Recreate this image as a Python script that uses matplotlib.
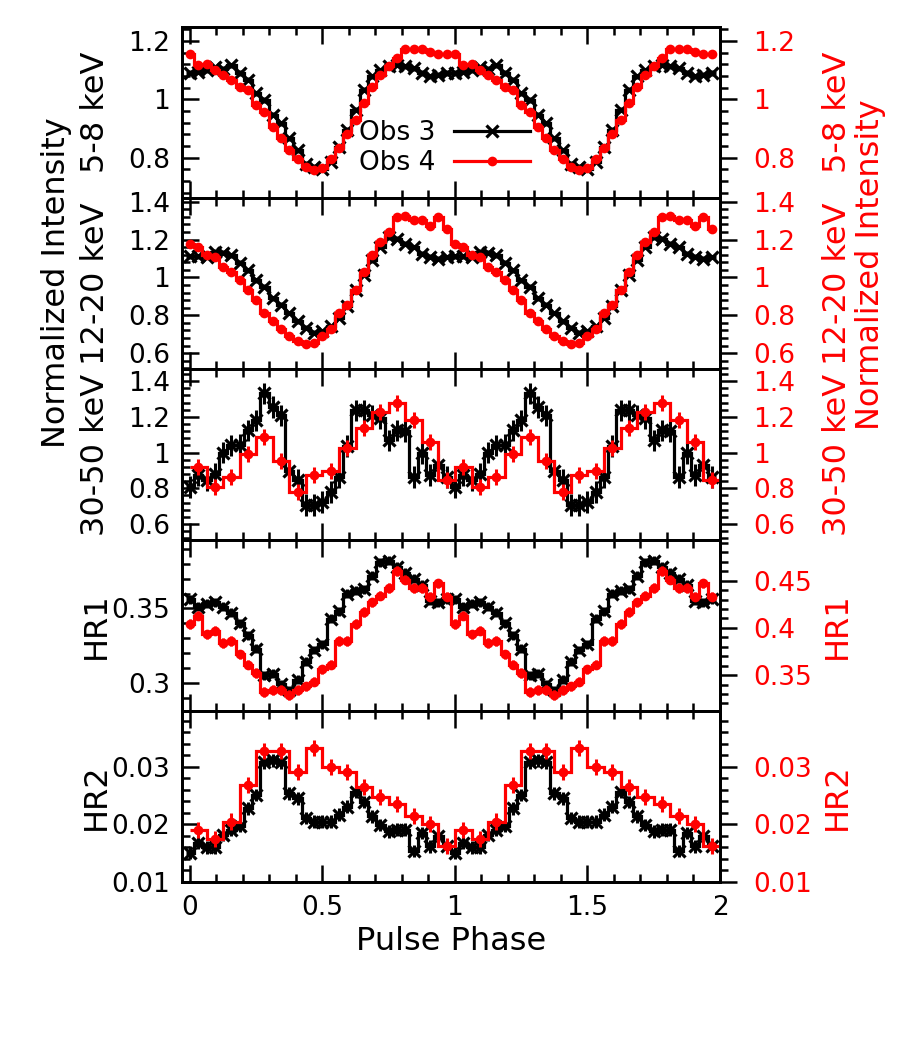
import numpy as np
import matplotlib
matplotlib.use("Agg")
import matplotlib.pyplot as plt
from matplotlib.ticker import MultipleLocator, AutoMinorLocator, FuncFormatter
from matplotlib.lines import Line2D

# pulse profiles, one cycle each (plotted twice)
# Obs 3: 32 bins centred on i/32
obs3_5_8 = [1.090, 1.095, 1.100, 1.110, 1.105, 1.117, 1.090, 1.067, 1.021, 0.998,
            0.947, 0.918, 0.866, 0.826, 0.780, 0.768, 0.763, 0.786, 0.837, 0.895,
            0.964, 1.033, 1.079, 1.100, 1.113, 1.119, 1.113, 1.107, 1.090, 1.079,
            1.084, 1.090]
obs4_5_8 = [1.156, 1.119, 1.121, 1.100, 1.084, 1.067, 1.044, 1.033, 0.981, 0.958,
            0.906, 0.866, 0.826, 0.797, 0.768, 0.757, 0.765, 0.797, 0.832, 0.883,
            0.929, 0.987, 1.044, 1.084, 1.113, 1.142, 1.171, 1.171, 1.174, 1.163,
            1.156, 1.156]

obs3_12_20 = [1.112, 1.112, 1.108, 1.135, 1.130, 1.117, 1.077, 1.039, 0.986, 0.951,
              0.890, 0.855, 0.812, 0.768, 0.733, 0.707, 0.716, 0.742, 0.786, 0.847,
              0.934, 1.013, 1.091, 1.161, 1.213, 1.204, 1.178, 1.161, 1.126, 1.109,
              1.100, 1.108]
obs4_12_20 = [1.178, 1.161, 1.117, 1.109, 1.056, 1.030, 0.986, 0.934, 0.882, 0.812,
              0.768, 0.725, 0.690, 0.664, 0.646, 0.655, 0.690, 0.725, 0.812, 0.855,
              0.934, 1.030, 1.117, 1.187, 1.240, 1.318, 1.327, 1.304, 1.304, 1.274,
              1.318, 1.257]

obs3_30_50 = [0.807, 0.873, 0.845, 0.882, 1.000, 1.041, 1.045, 1.125, 1.181, 1.331,
              1.256, 1.209, 0.895, 0.845, 0.705, 0.705, 0.723, 0.779, 0.864, 1.036,
              1.237, 1.237, 1.209, 1.194, 1.069, 1.125, 1.120, 0.864, 0.998, 0.873,
              0.929, 0.864]
# Obs 4 hard band: 16 bins
obs4_30_50 = [0.920, 0.807, 0.864, 0.994, 1.088, 0.951, 0.779, 0.873, 0.895, 1.026,
              1.135, 1.228, 1.275, 1.181, 1.060, 0.845]

obs3_hr1 = [0.356, 0.351, 0.353, 0.354, 0.351, 0.347, 0.340, 0.332, 0.323, 0.305,
            0.306, 0.299, 0.295, 0.302, 0.314, 0.322, 0.326, 0.343, 0.348, 0.360,
            0.362, 0.363, 0.372, 0.381, 0.382, 0.378, 0.374, 0.370, 0.366, 0.355,
            0.354, 0.356]
obs4_hr1 = [0.404, 0.413, 0.393, 0.397, 0.384, 0.386, 0.372, 0.361, 0.352, 0.332,
            0.334, 0.334, 0.329, 0.334, 0.338, 0.343, 0.356, 0.361, 0.386, 0.386,
            0.404, 0.417, 0.427, 0.434, 0.442, 0.460, 0.451, 0.442, 0.442, 0.433,
            0.447, 0.433]

obs3_hr2 = [0.0151, 0.0168, 0.0160, 0.0160, 0.0182, 0.0191, 0.0197, 0.0228, 0.0251,
            0.0308, 0.0311, 0.0308, 0.0254, 0.0245, 0.0211, 0.0205, 0.0205, 0.0205,
            0.0217, 0.0231, 0.0256, 0.0239, 0.0214, 0.0199, 0.0188, 0.0191, 0.0191,
            0.0154, 0.0185, 0.0162, 0.0179, 0.0162]
obs4_hr2 = [0.0191, 0.0174, 0.0205, 0.0268, 0.0328, 0.0328, 0.0291, 0.0333, 0.0299,
            0.0291, 0.0265, 0.0248, 0.0236, 0.0214, 0.0200, 0.0162]

# rough 1-sigma errors per panel
err3 = [0.009, 0.013, 0.06, 0.003, 0.0011]
err4 = [0.009, 0.013, 0.045, 0.005, 0.0014]

left_labels = ["5-8 keV", "12-20 keV", "30-50 keV", "HR1", "HR2"]
left_lims = [(0.662, 1.248), (0.516, 1.42), (0.51, 1.468), (0.281, 0.396), (0.00999, 0.0397)]
right_lims = [(0.662, 1.248), (0.516, 1.42), (0.51, 1.468), (0.312, 0.493), (0.00999, 0.0397)]
major_steps = [0.2, 0.2, 0.2, 0.05, 0.01]
right_steps = [0.2, 0.2, 0.2, 0.05, 0.01]


def profile(ax, vals, err, color, marker, centred):
    n = len(vals)
    y = np.tile(vals, 2)
    shift = 0.0 if centred else 0.5 / n
    x = np.arange(2 * n) / n + shift
    edges = np.arange(2 * n + 1) / n + shift - 0.5 / n
    ax.stairs(y, edges, color=color, lw=2.3, baseline=None)
    if marker == "x":
        ax.errorbar(x, y, yerr=err, fmt="x", color=color, ms=8, mew=2.3,
                    elinewidth=2.2, capsize=0)
    else:
        ax.errorbar(x, y, yerr=err, fmt="o", color=color, ms=7, mew=0,
                    elinewidth=2.2, capsize=0)


fmt = FuncFormatter(lambda v, p: "%g" % round(v, 6))

fig = plt.figure(figsize=(9, 10.38), dpi=100)
x0, x1 = 182 / 900, 720 / 900
top, bot = 1 - 27 / 1038, 1 - 882 / 1038
h = (top - bot) / 5

obs3_sets = [obs3_5_8, obs3_12_20, obs3_30_50, obs3_hr1, obs3_hr2]
obs4_sets = [obs4_5_8, obs4_12_20, obs4_30_50, obs4_hr1, obs4_hr2]

axes = []
for k in range(5):
    ax = fig.add_axes([x0, top - (k + 1) * h, x1 - x0, h])
    ax2 = ax.twinx()
    profile(ax, obs3_sets[k], err3[k], "black", "x", True)
    o4 = obs4_sets[k]
    profile(ax2, o4, err4[k], "red", "o", len(o4) == 32)

    ax.set_xlim(-0.03, 2.0)
    ax.set_ylim(*left_lims[k])
    ax2.set_ylim(*right_lims[k])
    ax.xaxis.set_major_locator(MultipleLocator(0.5))
    ax.xaxis.set_minor_locator(MultipleLocator(0.1))
    ax.xaxis.set_major_formatter(fmt)
    for a, st in ((ax, major_steps[k]), (ax2, right_steps[k])):
        a.yaxis.set_major_locator(MultipleLocator(st))
        a.yaxis.set_minor_locator(AutoMinorLocator(5))
        a.yaxis.set_major_formatter(fmt)
        for s in a.spines.values():
            s.set_linewidth(2)

    ax.tick_params(axis="both", which="both", direction="in", top=True,
                   width=1.8, labelsize=19, pad=8.5)
    ax.tick_params(which="major", length=12)
    ax.tick_params(which="minor", length=6)
    ax.tick_params(axis="x", pad=9, labelbottom=(k == 4))
    ax2.tick_params(axis="y", which="both", direction="out", width=1.8,
                    labelsize=19, labelcolor="red", pad=12)
    ax2.tick_params(axis="y", which="major", length=12)
    ax2.tick_params(axis="y", which="minor", length=6)

    ax.text(-0.16, 0.5, left_labels[k], transform=ax.transAxes, rotation=90,
            ha="center", va="center", fontsize=23)
    ax2.text(1.2175, 0.5, left_labels[k], transform=ax.transAxes, rotation=90,
             ha="center", va="center", fontsize=23, color="red")
    axes.append((ax, ax2))

axes[-1][0].set_xlabel("Pulse Phase", fontsize=23, labelpad=4)

fig.text(57 / 900, 1 - 283 / 1038, "Normalized Intensity", rotation=90,
         ha="center", va="center", fontsize=23)
fig.text(870 / 900, 1 - 265 / 1038, "Normalized Intensity", rotation=90,
         ha="center", va="center", fontsize=23, color="red")

handles = [Line2D([], [], color="black", lw=2.3, marker="x", ms=9, mew=2.3),
           Line2D([], [], color="red", lw=2.3, marker="o", ms=7, mew=0)]
axes[0][1].legend(handles, ["Obs 3", "Obs 4"], loc="center",
                  bbox_to_anchor=(0.488, 0.29), frameon=False, fontsize=19,
                  markerfirst=False, handlelength=2.9, handletextpad=0.7,
                  labelspacing=0.15, numpoints=1)

fig.savefig("out.png", dpi=100)
